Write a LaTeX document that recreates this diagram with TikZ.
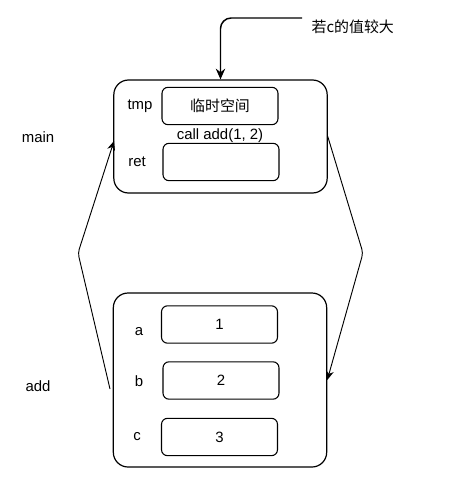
\documentclass[tikz,border=0pt]{standalone}
\usepackage{fontspec}
\setmainfont{Liberation Sans}
\newfontfamily\cjk{Noto Sans CJK SC}
\usetikzlibrary{arrows.meta}
\tikzset{
  frame/.style={draw,rounded corners=11pt,line width=0.9pt,minimum width=160pt},
  cell/.style={draw,rounded corners=4.5pt,line width=0.8pt,minimum width=87pt,minimum height=28pt},
  lbl/.style={inner sep=1pt},
  flow/.style={line width=0.7pt,-{Stealth[length=7pt,width=6pt]}},
  jump/.style={line width=1.1pt,-{Stealth[length=8pt,width=7pt]}}
}
\begin{document}
\begin{tikzpicture}[x=0.75pt,y=-0.75pt,font=\fontsize{11.2}{13}\selectfont]
\useasboundingbox (0,0) rectangle (461,485);
% main frame
\node[frame,minimum height=84.75pt] (main) at (220.5,136.5) {};
\node[cell] (tmp) at (220,106) {\cjk 临时空间};
\node[cell] (ret) at (221,162) {};
\node[lbl] (tmplbl) at (140,106) {tmp};
\node[lbl] (retlbl) at (137,162) {ret};
\node[lbl] (call) at (220,136) {call add(1, 2)};
\node[lbl] (mainlbl) at (38,137) {main};
% add frame
\node[frame,minimum height=130.5pt] (add) at (220,380) {};
\node[cell] (va) at (219.5,324.5) {1};
\node[cell] (vb) at (221,380.5) {2};
\node[cell] (vc) at (219.5,437) {3};
\node[lbl] (albl) at (139,332) {a};
\node[lbl] (blbl) at (139,381) {b};
\node[lbl] (clbl) at (137,437) {c};
\node[lbl] (addlbl) at (38,386) {add};
% condition
\node[lbl,anchor=west] (cond) at (310,27) {\cjk 若c的值较大};
\coordinate (src) at (302,18);
\draw[jump,rounded corners=8pt] (src) -| (main.north);
% return and call
\coordinate (back) at (110,389);
\coordinate (bendl) at (78,253);
\coordinate (inl) at (114,141);
\draw[flow,rounded corners=3pt] (back) -- (bendl) -- (inl);
\coordinate (bendr) at (363,253);
\draw[flow,rounded corners=3pt] (main.east) -- (bendr) -- (add.east);
\end{tikzpicture}
\end{document}
